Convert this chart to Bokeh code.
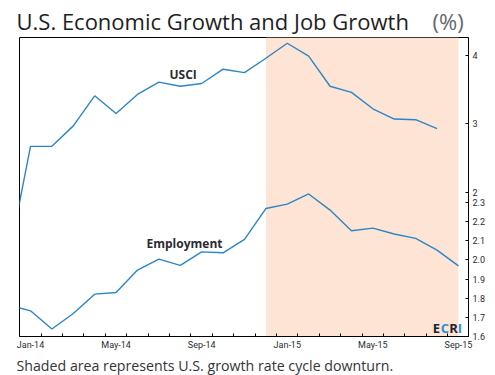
from bokeh.plotting import figure
from bokeh.layouts import column
from bokeh.models import Range1d, FixedTicker, BoxAnnotation, Label
from bokeh.embed import file_html
from bokeh.resources import INLINE

# ---- data ----
months = ["Dec-13", "Jan-14", "Feb-14", "Mar-14", "Apr-14", "May-14", "Jun-14", "Jul-14",
          "Aug-14", "Sep-14", "Oct-14", "Nov-14", "Dec-14", "Jan-15", "Feb-15", "Mar-15",
          "Apr-15", "May-15", "Jun-15", "Jul-15", "Aug-15", "Sep-15"]
usci = [1.07, 2.67, 2.67, 2.97, 3.41, 3.15, 3.43, 3.61, 3.55, 3.59, 3.80, 3.75,
        3.96, 4.18, 3.99, 3.55, 3.46, 3.22, 3.07, 3.06, 2.93, None]
employment = [1.764, 1.734, 1.639, 1.72, 1.821, 1.83, 1.947, 2.004, 1.971, 2.042, 2.037, 2.107,
              2.268, 2.291, 2.344, 2.26, 2.152, 2.166, 2.135, 2.112, 2.051, 1.969]
x_labels = ["Jan-14", "May-14", "Sep-14", "Jan-15", "May-15", "Sep-15"]
emp_ticks = [1.6, 1.7, 1.8, 1.9, 2.0, 2.1, 2.2, 2.3]
emp_tick_labels = ["1.6", "1.7", "1.8", "1.9", "2.0", "2.1", "2.2", "2.3"]
usci_ticks = [2, 3, 4]
usci_tick_labels = ["2", "3", "4"]
downturn = ("Dec-14", "Sep-15")

BLUE = "#2a86c8"
SHADE = "#fde4d5"
TXT = "#2b2b33"
FONT = "Open Sans"
TICKFONT = "Roboto"

W = 495


def text_fig(h):
    f = figure(width=W, height=h, x_range=Range1d(0, W), y_range=Range1d(0, h),
               x_axis_location=None, y_axis_location=None, output_backend="svg",
               toolbar_location=None, min_border=0, title=None, frame_align=False)
    f.grid.visible = False
    f.outline_line_color = None
    return f


# ---- title ----
pt = text_fig(37)
pt.add_layout(Label(x=16, y=17, text="U.S. Economic Growth and Job Growth", text_font=FONT,
                    text_font_size="22px", text_color="#1e1e24", text_baseline="alphabetic"))
pt.add_layout(Label(x=432, y=17, text="(%)", text_font=FONT,
                    text_font_size="22px", text_color="#66666e", text_baseline="alphabetic"))

# ---- main chart ----
xs = list(range(len(months)))
u_x = [x for x, v in zip(xs, usci) if v is not None]
u_y = [v for v in usci if v is not None]

x_range = Range1d(0.486, 21.47)
emp_range = Range1d(1.6, 3.161)
usci_range = Range1d(-0.114, 4.264)

p = figure(width=W, height=316, x_range=x_range, y_range=emp_range,
           y_axis_location="right", output_backend="svg", toolbar_location=None,
           min_border_left=19, min_border_right=27, min_border_top=0, min_border_bottom=17,
           title=None, frame_align=False)
p.extra_y_ranges = {"usci": usci_range}
p.grid.visible = False
p.outline_line_color = "black"
p.outline_line_width = 1

p.add_layout(BoxAnnotation(left=months.index(downturn[0]), right=months.index(downturn[1]),
                           fill_color=SHADE, fill_alpha=1, line_color=None, level="underlay"))

p.line(u_x, u_y, y_range_name="usci", line_color=BLUE, line_width=1.4)
p.line(xs, employment, line_color=BLUE, line_width=1.4)

xa = p.xaxis[0]
xtick_pos = [months.index(m) for m in x_labels]
xa.ticker = FixedTicker(ticks=xtick_pos, minor_ticks=[i + 0.5 for i in range(1, 21)])
xa.major_label_overrides = {pos: lab for pos, lab in zip(xtick_pos, x_labels)}
xa.major_tick_in = 0
xa.major_tick_out = 0
xa.minor_tick_in = 3
xa.minor_tick_out = 0
xa.axis_line_color = "black"
xa.minor_tick_line_color = "black"
xa.major_label_text_font = TICKFONT
xa.major_label_text_font_size = "9px"
xa.major_label_text_color = TXT
xa.major_label_standoff = 3

ya = p.yaxis[0]


def usci_to_emp(u):
    return emp_range.start + (u - usci_range.start) / (usci_range.end - usci_range.start) * (emp_range.end - emp_range.start)


ypos = list(emp_ticks) + [round(usci_to_emp(u), 6) for u in usci_ticks]
ylabs = list(emp_tick_labels) + list(usci_tick_labels)
ya.ticker = FixedTicker(ticks=ypos, minor_ticks=[])
ya.major_label_overrides = {pos: lab for pos, lab in zip(ypos, ylabs)}
ya.major_tick_in = 3
ya.major_tick_out = 0
ya.axis_line_color = "black"
ya.major_label_text_font = TICKFONT
ya.major_label_text_font_size = "9px"
ya.major_label_text_color = TXT
ya.major_label_standoff = 4


def lab(text, x, y, size, color=TXT, style="normal", align="left"):
    p.add_layout(Label(x=x, y=y, x_units="screen", y_units="screen", text=text,
                       text_font=FONT, text_font_size=size, text_color=color,
                       text_font_style=style, text_baseline="alphabetic", text_align=align))


lab("USCI", 150, 262, "12px", style="bold")
lab("Employment", 127, 93, "12px", style="bold")
lab("E", 417, 9, "13px", color="#222228", style="bold", align="center")
lab("C", 425.5, 9, "13px", color="#2a8fd6", style="bold", align="center")
lab("R", 434, 9, "13px", color="#222228", style="bold", align="center")
lab("I", 440.5, 9, "13px", color="#2a8fd6", style="bold", align="center")

# ---- footnote ----
pb = text_fig(22)
pb.add_layout(Label(x=16, y=10, text="Shaded area represents U.S. growth rate cycle downturn.",
                    text_font=FONT, text_font_size="14.2px", text_color="#333338",
                    text_baseline="alphabetic"))

layout = column(pt, p, pb, spacing=0)
open("out.html", "w").write(file_html(layout, INLINE))
